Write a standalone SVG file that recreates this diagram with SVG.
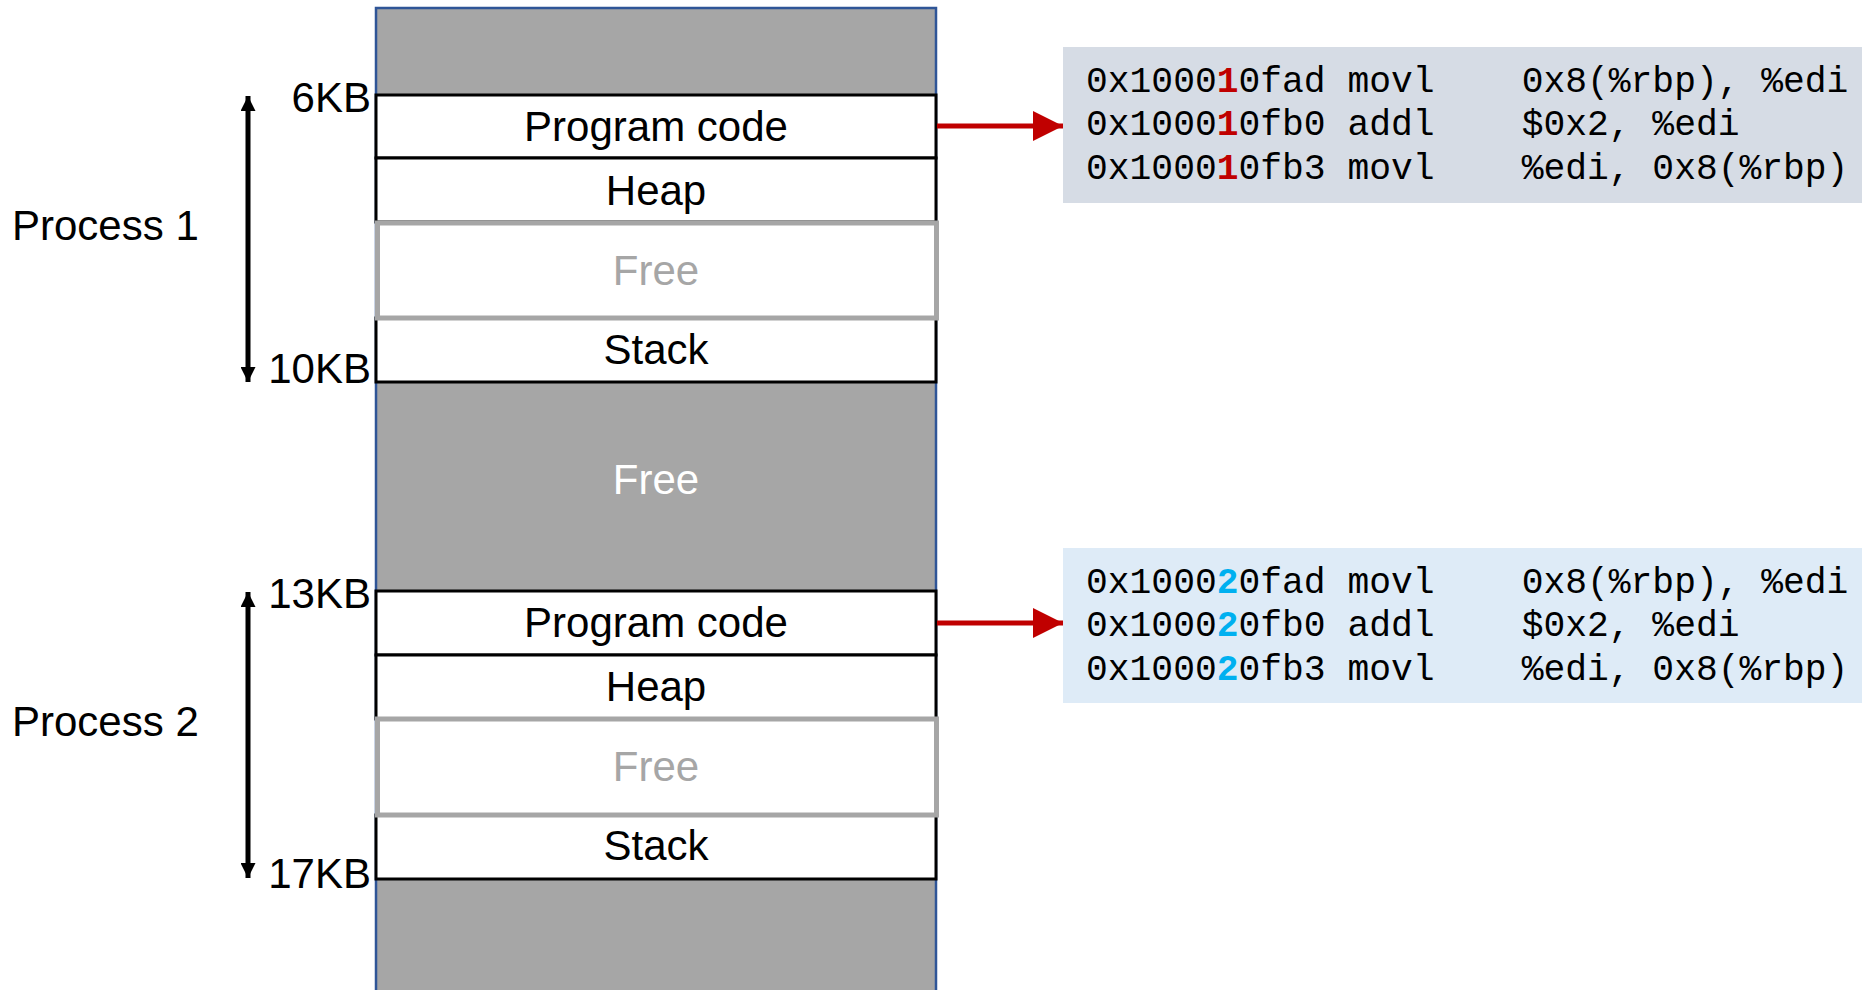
<svg xmlns="http://www.w3.org/2000/svg" width="1862" height="990" viewBox="0 0 1862 990">
<defs>
<style>
.lbl{font-family:"Liberation Sans",Arial,sans-serif;font-size:42px;fill:#000;text-anchor:middle}
.kb{font-family:"Liberation Sans",Arial,sans-serif;font-size:42px;fill:#000;text-anchor:end}
.proc{font-family:"Liberation Sans",Arial,sans-serif;font-size:42px;fill:#000}
.free{fill:#a6a6a6}
.seg{fill:#fff;stroke:#000;stroke-width:3}
.fbox{fill:#fff;stroke:#a6a6a6;stroke-width:5}
.code{font-family:"Liberation Mono","Courier New",monospace;font-size:36.3px;fill:#000;white-space:pre}
.hl1{fill:#c00000;font-weight:bold}
.hl2{fill:#00b0f0;font-weight:bold}
.red{stroke:#c00000;stroke-width:5;fill:none}
.blk{stroke:#000;stroke-width:5;fill:none}
</style>
<marker id="ah" viewBox="0 0 10 10" refX="10" refY="5" markerWidth="3" markerHeight="3" orient="auto-start-reverse" markerUnits="strokeWidth">
<path d="M0,0 L10,5 L0,10 z" fill="#000"/>
</marker>
<marker id="rh" viewBox="0 0 10 10" refX="10" refY="5" markerWidth="6" markerHeight="6" orient="auto" markerUnits="strokeWidth">
<path d="M0,0 L10,5 L0,10 z" fill="#c00000"/>
</marker>
</defs>
<rect width="1862" height="990" fill="#fff"/>

<g id="memory">
<rect x="376" y="8" width="560" height="990" fill="#a6a6a6" stroke="#2f5597" stroke-width="2.5"/>
<text class="lbl" x="656" y="494" style="fill:#fff">Free</text>
</g>

<g id="process1">
<rect class="seg" x="376" y="95" width="560" height="63"/>
<text class="lbl" x="656" y="141">Program code</text>
<rect class="seg" x="376" y="158" width="560" height="64"/>
<text class="lbl" x="656" y="205">Heap</text>
<rect class="seg" x="376" y="318" width="560" height="64"/>
<text class="lbl" x="656" y="364">Stack</text>
<rect class="fbox" x="377.5" y="223" width="559" height="95"/>
<text class="lbl" x="656" y="285" style="fill:#a6a6a6">Free</text>
<text class="kb" x="371" y="112">6KB</text>
<text class="kb" x="371" y="383">10KB</text>
<text class="proc" x="12" y="240">Process 1</text>
</g>

<g id="process2">
<rect class="seg" x="376" y="591" width="560" height="64"/>
<text class="lbl" x="656" y="637">Program code</text>
<rect class="seg" x="376" y="655" width="560" height="64"/>
<text class="lbl" x="656" y="701">Heap</text>
<rect class="seg" x="376" y="815" width="560" height="64"/>
<text class="lbl" x="656" y="860">Stack</text>
<rect class="fbox" x="377.5" y="719" width="559" height="96"/>
<text class="lbl" x="656" y="781" style="fill:#a6a6a6">Free</text>
<text class="kb" x="371" y="608">13KB</text>
<text class="kb" x="371" y="888">17KB</text>
<text class="proc" x="12" y="736">Process 2</text>
</g>

<g id="code1">
<rect x="1063" y="47" width="799" height="156" fill="#d6dce5"/>
<text class="code" x="1086" y="92" xml:space="preserve">0x1000<tspan class="hl1">1</tspan>0fad movl    0x8(%rbp), %edi</text>
<text class="code" x="1086" y="135" xml:space="preserve">0x1000<tspan class="hl1">1</tspan>0fb0 addl    $0x2, %edi</text>
<text class="code" x="1086" y="179" xml:space="preserve">0x1000<tspan class="hl1">1</tspan>0fb3 movl    %edi, 0x8(%rbp)</text>
</g>

<g id="code2">
<rect x="1063" y="548" width="799" height="155" fill="#deebf7"/>
<text class="code" x="1086" y="593" xml:space="preserve">0x1000<tspan class="hl2">2</tspan>0fad movl    0x8(%rbp), %edi</text>
<text class="code" x="1086" y="636" xml:space="preserve">0x1000<tspan class="hl2">2</tspan>0fb0 addl    $0x2, %edi</text>
<text class="code" x="1086" y="680" xml:space="preserve">0x1000<tspan class="hl2">2</tspan>0fb3 movl    %edi, 0x8(%rbp)</text>
</g>

<g id="connectors">
<line class="blk" x1="248" y1="96" x2="248" y2="382" marker-start="url(#ah)" marker-end="url(#ah)"/>
<line class="blk" x1="248" y1="592" x2="248" y2="878" marker-start="url(#ah)" marker-end="url(#ah)"/>
<line class="red" x1="937" y1="126" x2="1063" y2="126" marker-end="url(#rh)"/>
<line class="red" x1="937" y1="623" x2="1063" y2="623" marker-end="url(#rh)"/>
</g>
</svg>
